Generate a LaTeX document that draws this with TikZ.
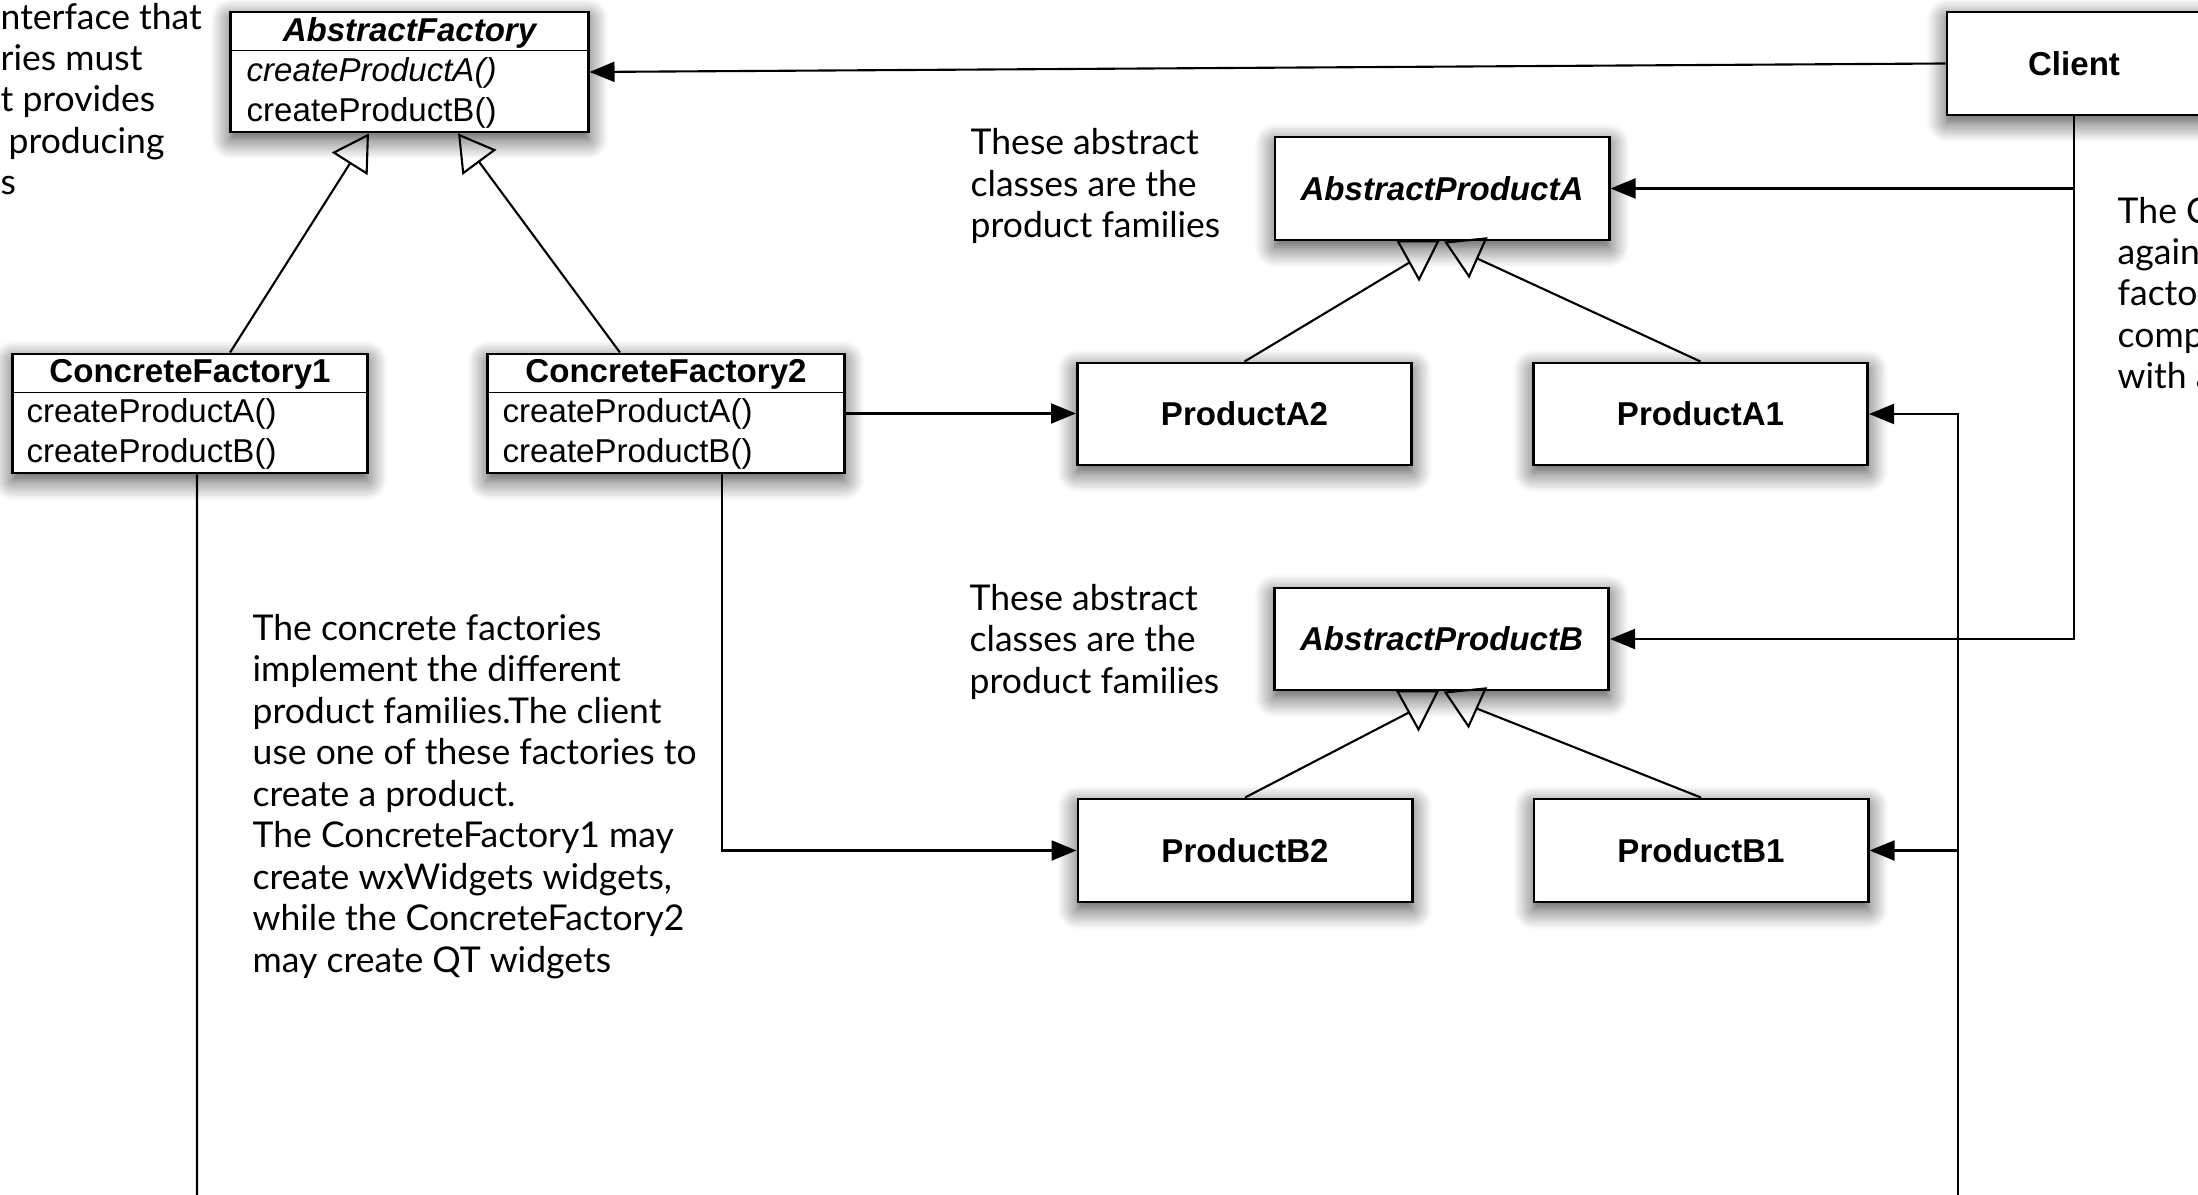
\documentclass[tikz,border=0pt]{standalone}
\usepackage{fontspec}
\setsansfont{Liberation Sans}
\newfontfamily\notefont{Lato}
\usetikzlibrary{arrows.meta}
\usetikzlibrary{shadows.blur}

\tikzset{
  classbox/.style={draw, line width=0.8pt, fill=white, inner sep=0pt,
    blur shadow={shadow xshift=0cm, shadow yshift=-0.07cm,
                 shadow blur radius=0.2cm, shadow blur steps=10, shadow opacity=75}},
  classname/.style={font=\sffamily\bfseries\fontsize{9.4}{11.4}\selectfont, inner sep=0pt},
  abstractname/.style={font=\sffamily\bfseries\itshape\fontsize{9.4}{11.4}\selectfont, inner sep=0pt},
  methods/.style={font=\sffamily\fontsize{9.4}{11.4}\selectfont, inner sep=0pt, anchor=base west},
  link/.style={line width=0.6pt},
  uses/.style={link, -{Triangle[length=0.25cm, width=0.2cm]}},
  isa/.style={link, -{Triangle[open, length=0.36cm, width=0.42cm]}},
  % base of a multi-line note = baseline of its last line
  notetext/.style={font=\notefont\fontsize{10.1}{11.8}\selectfont, align=left,
    inner sep=0pt, anchor=base west}
}

\begin{document}
\begin{tikzpicture}[x=0.01cm, y=-0.01cm]
\useasboundingbox (0,0) rectangle (2198,1195);

% factories
\draw (409.5,72) node[classbox, minimum width=3.57cm, minimum height=1.2cm] (af) {};
\draw ([yshift=-0.4cm]af.north west) -- ([yshift=-0.4cm]af.north east);
\draw (409.5,42) node[abstractname, anchor=base] (afname) {AbstractFactory};
\draw (246,82) node[methods] (afa) {\itshape createProductA()};
\draw (246,122) node[methods] (afb) {createProductB()};

\draw (190,413.5) node[classbox, minimum width=3.54cm, minimum height=1.19cm] (cf1) {};
\draw ([yshift=-0.4cm]cf1.north west) -- ([yshift=-0.4cm]cf1.north east);
\draw (190,383) node[classname, anchor=base] (cf1name) {ConcreteFactory1};
\draw (26,423) node[methods] (cf1a) {createProductA()};
\draw (26,463) node[methods] (cf1b) {createProductB()};

\draw (666,413.5) node[classbox, minimum width=3.56cm, minimum height=1.19cm] (cf2) {};
\draw ([yshift=-0.4cm]cf2.north west) -- ([yshift=-0.4cm]cf2.north east);
\draw (666,383) node[classname, anchor=base] (cf2name) {ConcreteFactory2};
\draw (502,423) node[methods] (cf2a) {createProductA()};
\draw (502,463) node[methods] (cf2b) {createProductB()};

% client and products
\draw (2074,63.5) node[classbox, classname, minimum width=2.54cm, minimum height=1.03cm] (client) {Client};
\draw (1442,188.5) node[classbox, abstractname, minimum width=3.34cm, minimum height=1.03cm] (apa) {AbstractProductA};
\draw (1244.5,414) node[classbox, classname, minimum width=3.34cm, minimum height=1.02cm] (pa2) {ProductA2};
\draw (1700.5,414) node[classbox, classname, minimum width=3.34cm, minimum height=1.02cm] (pa1) {ProductA1};
\draw (1441.5,639) node[classbox, abstractname, minimum width=3.34cm, minimum height=1.02cm] (apb) {AbstractProductB};
\draw (1245,850.5) node[classbox, classname, minimum width=3.34cm, minimum height=1.03cm] (pb2) {ProductB2};
\draw (1701,850.5) node[classbox, classname, minimum width=3.34cm, minimum height=1.03cm] (pb1) {ProductB1};

\begin{scope}[shift={(apa.south)}]
  \draw[link] (-44,0) -- (-4,0) -- (-23,38) -- cycle;
  \draw[link] (4,1) -- (44,-3) -- (27,35) -- cycle;
  \coordinate (apaleft) at (-32.5,21);
  \coordinate (aparight) at (35,17);
\end{scope}
\begin{scope}[shift={(apb.south)}]
  \draw[link] (-44,0) -- (-4,0) -- (-23,38) -- cycle;
  \draw[link] (4,1) -- (44,-3) -- (27,35) -- cycle;
  \coordinate (apbleft) at (-32.5,21);
  \coordinate (apbright) at (35,17);
\end{scope}

% connectors
\draw[uses] (client.west) -- (af.east);
\draw[uses] (client.south) |- (apb.east);
\draw[uses] (client.south |- apa.east) -- (apa.east);
\draw[uses] (cf2.east) -- (cf2.east -| pa2.west);
\coordinate (cf2out) at ([xshift=0.56cm]cf2.south);
\draw[uses] (cf2out) |- (pb2.west);
\coordinate (cf1end) at (197,1200);
\draw[link] ([xshift=0.07cm]cf1.south) -- (cf1end);
\coordinate (prodend) at (1958,1200);
\draw[uses] (prodend) |- (pa1.east);
\draw[uses] (prodend |- pb1.east) -- (pb1.east);
\draw[isa] ([xshift=0.4cm]cf1.north) -- ([xshift=-0.405cm]af.south);
\draw[isa] ([xshift=-0.46cm]cf2.north) -- ([xshift=0.485cm]af.south);
\draw[link] (pa2.north) -- (apaleft);
\draw[link] (pa1.north) -- (aparight);
\draw[link] (pb2.north) -- (apbleft);
\draw[link] (pb1.north) -- (apbright);

% notes
\draw (0,195) node[notetext] (factorynote) {nterface that\\ries must\\t provides\\\hspace*{0.08cm}producing\\s};
\draw (252,972) node[notetext] (concretenote) {The concrete factories\\implement the different\\product families.The client\\use one of these factories to\\create a product.\\The ConcreteFactory1 may\\create wxWidgets widgets,\\while the ConcreteFactory2\\may create QT widgets};
\draw (970,238) node[notetext] (familynotea) {These abstract\\classes are the\\product families};
\draw (969,693) node[notetext] (familynoteb) {These abstract\\classes are the\\product families};
\draw (2117,389) node[notetext] (clientnote) {The C\\agains\\factor\\comp\\with a};
\end{tikzpicture}
\end{document}
